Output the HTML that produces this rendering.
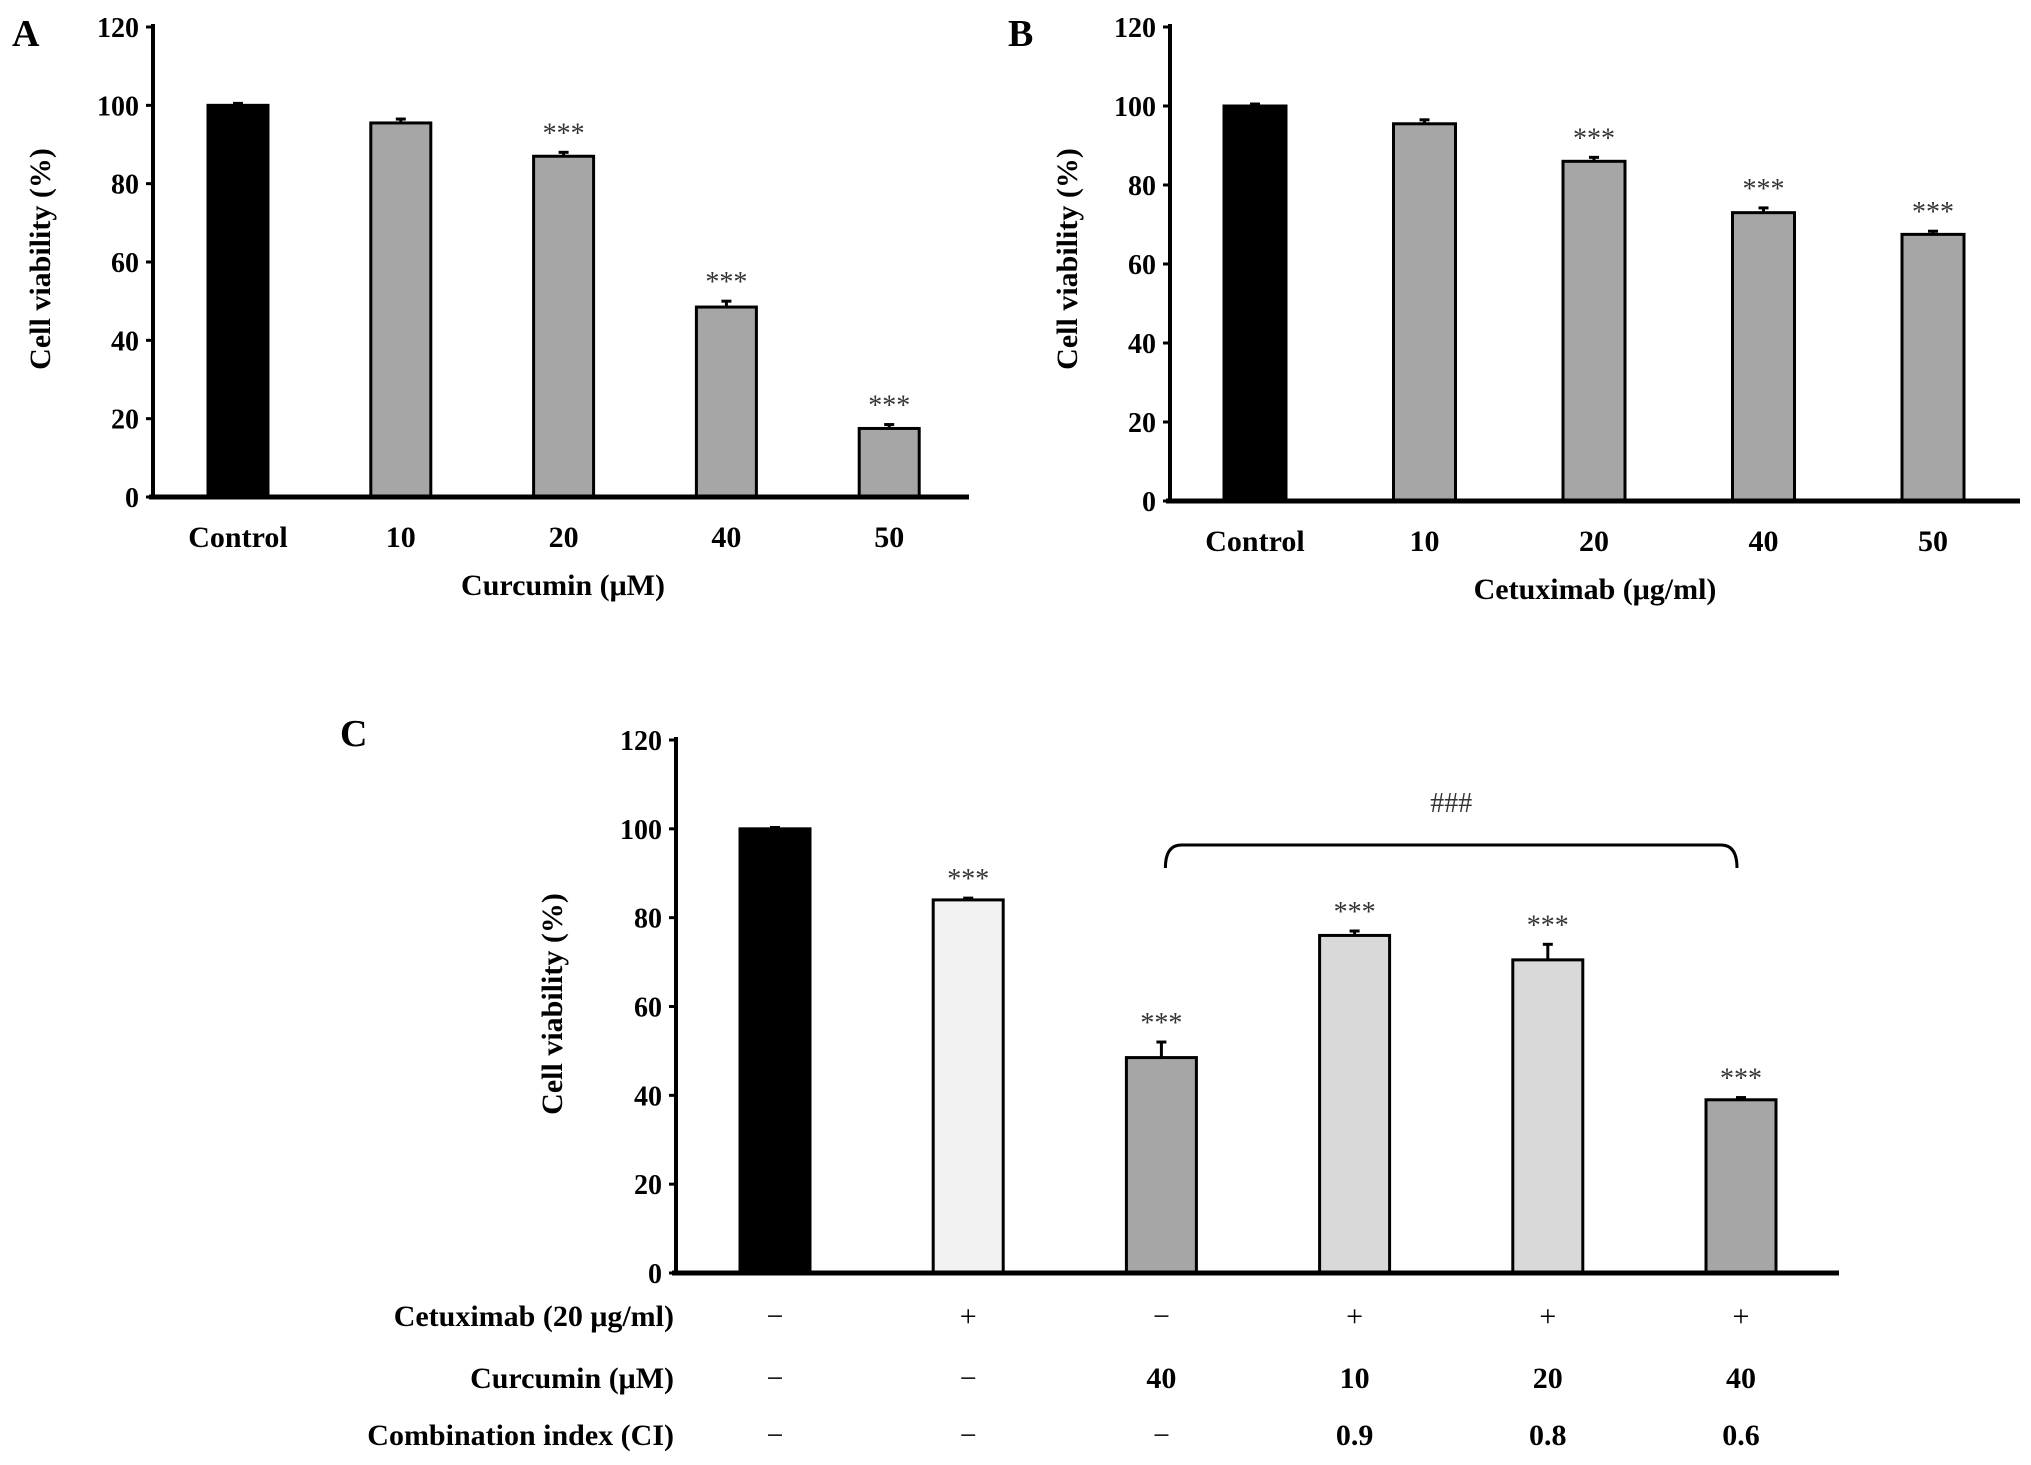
<!DOCTYPE html>
<html><head><meta charset="utf-8"><style>
body{margin:0;background:#fff;}
svg{display:block;font-family:"Liberation Serif",serif;font-weight:bold;}
</style></head><body>
<svg id="fig" width="2031" height="1465" viewBox="0 0 2031 1465"></svg>
<script>
const catsA=["Control","10","20","40","50"];
const valsA=[100,95.5,87,48.5,17.5];
const errA=[0.5,1,1,1.5,1];
const sigA=["","","***","***","***"];
const catsB=["Control","10","20","40","50"];
const valsB=[100,95.5,86,73,67.5];
const errB=[0.5,1,1,1.2,0.8];
const sigB=["","","***","***","***"];
const valsC=[100,84,48.5,76,70.5,39];
const errC=[0.3,0.4,3.5,1,3.5,0.5];
const sigC=["","***","***","***","***","***"];
const fillC=["#000","#f2f2f2","#a6a6a6","#d9d9d9","#d9d9d9","#a6a6a6"];
const rowCet=["−","+","−","+","+","+"];
const rowCur=["−","−","40","10","20","40"];
const rowCI=["−","−","−","0.9","0.8","0.6"];
const ticks=[0,20,40,60,80,100,120];

const svg=document.getElementById('fig');
const NS="http://www.w3.org/2000/svg";
function mk(tag,attrs,name,txt){const e=document.createElementNS(NS,tag);for(const k in attrs)e.setAttribute(k,attrs[k]);


if(txt!==undefined)e.textContent=txt;svg.appendChild(e);return e;}

function panel(o){
  const y=v=>o.y0-(o.y0-o.y120)*v/120;
  const xc=i=>o.c0+i*o.step;
  mk('text',{x:o.lx,y:o.ly,'font-size':38},'panel-label-'+o.id,o.id);
  ticks.forEach(t=>{mk('text',{x:o.ax-14,y:y(t)+10,'font-size':28,'text-anchor':'end'},'y-tick-label-'+o.id,String(t));
    mk('line',{x1:o.ax-7,x2:o.ax,y1:y(t),y2:y(t),stroke:'#000','stroke-width':3},'y-tick-'+o.id);});
  o.vals.forEach((v,i)=>{
    const c=xc(i),w=o.bw;
    mk('rect',{x:c-w/2,y:y(v),width:w,height:o.y0-y(v),fill:o.fills[i],stroke:'#000','stroke-width':3},'bar-'+o.id+'-'+i);
    const e=o.errs[i];
    mk('line',{x1:c,x2:c,y1:y(v),y2:y(v+e),stroke:'#000','stroke-width':3},'error-bar-'+o.id+'-'+i);
    mk('line',{x1:c-5,x2:c+5,y1:y(v+e),y2:y(v+e),stroke:'#000','stroke-width':3},'error-cap-'+o.id+'-'+i);
    if(o.sig[i])mk('text',{x:c,y:y(v+e)-10,'font-size':28,'font-weight':'normal','text-anchor':'middle',fill:'#333'},'significance-'+o.id+'-'+i,o.sig[i]);
    if(o.cats)mk('text',{x:c,y:o.y0+50,'font-size':30,'text-anchor':'middle'},'x-tick-label-'+o.id,o.cats[i]);
  });
  mk('line',{x1:o.ax,x2:o.ax,y1:o.y120-3,y2:o.y0,stroke:'#000','stroke-width':4},'y-axis-'+o.id);
  mk('line',{x1:o.ax-4,x2:o.xend,y1:o.y0,y2:o.y0,stroke:'#000','stroke-width':5},'x-axis-'+o.id);
  mk('text',{x:0,y:0,'font-size':30,'text-anchor':'middle',transform:`translate(${o.ytx},${o.yty}) rotate(-90)`},'y-axis-title-'+o.id,'Cell viability (%)');
  if(o.xt)mk('text',{x:o.xtx,y:o.xty,'font-size':30,'text-anchor':'middle'},'x-axis-title-'+o.id,o.xt);
  return {y,xc};
}
panel({id:'A',lx:12,ly:46,ax:153,y120:27,y0:497,xend:969,c0:238,step:162.8,bw:60,vals:valsA,errs:errA,sig:sigA,cats:catsA,
  fills:["#000","#a6a6a6","#a6a6a6","#a6a6a6","#a6a6a6"],ytx:50,yty:259,xt:'Curcumin (μM)',xtx:563,xty:595});
panel({id:'B',lx:1008,ly:46,ax:1170,y120:27,y0:501,xend:2020,c0:1255,step:169.5,bw:62,vals:valsB,errs:errB,sig:sigB,cats:catsB,
  fills:["#000","#a6a6a6","#a6a6a6","#a6a6a6","#a6a6a6"],ytx:1077,yty:259,xt:'Cetuximab (μg/ml)',xtx:1595,xty:599});
const pc=panel({id:'C',lx:340,ly:746,ax:676,y120:740,y0:1273,xend:1839,c0:775,step:193.2,bw:70,vals:valsC,errs:errC,sig:sigC,
  fills:fillC,ytx:562,yty:1004});
mk('path',{d:`M${pc.xc(2)+4} 868 Q${pc.xc(2)+4} 845 ${pc.xc(2)+20} 845 L${pc.xc(5)-20} 845 Q${pc.xc(5)-4} 845 ${pc.xc(5)-4} 868`,fill:'none',stroke:'#000','stroke-width':3},'significance-bracket');
mk('text',{x:(pc.xc(2)+pc.xc(5))/2,y:812,'font-size':28,'font-weight':'normal','text-anchor':'middle',fill:'#333'},'bracket-label','###');
const rows=[["Cetuximab (20 μg/ml)",rowCet,1326],["Curcumin (μM)",rowCur,1388],["Combination index (CI)",rowCI,1445]];
rows.forEach((r,ri)=>{
  mk('text',{x:674,y:r[2],'font-size':30,'text-anchor':'end'},'row-label-'+ri,r[0]);
  r[1].forEach((s,i)=>mk('text',{x:pc.xc(i),y:r[2],'font-size':30,'text-anchor':'middle','font-weight':(s=='−'||s=='+')?'normal':'bold'},'row-value-'+ri+'-'+i,s));
});
</script>
</body></html>
